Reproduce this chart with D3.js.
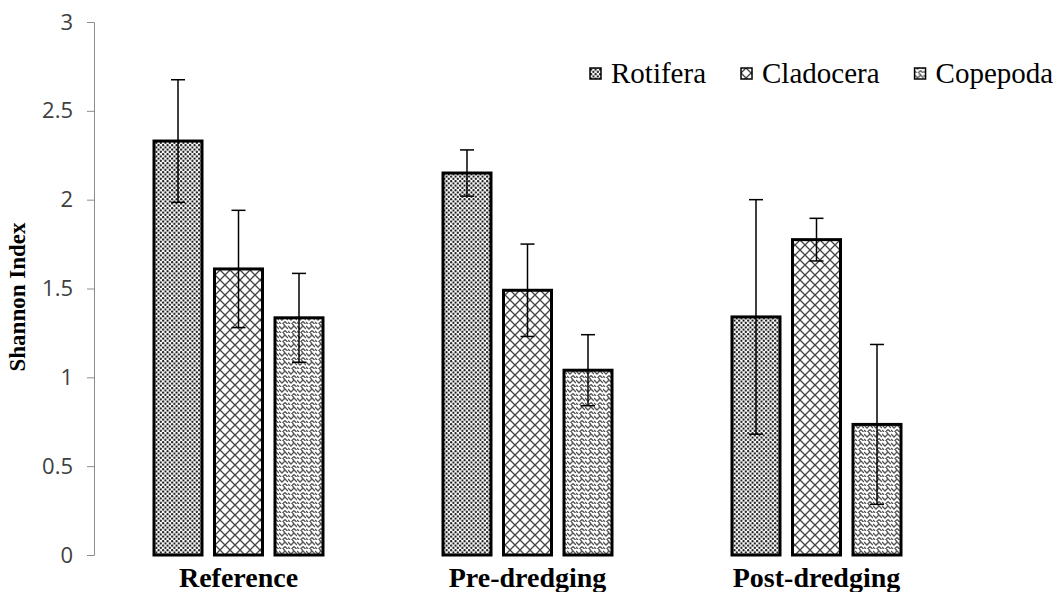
<!DOCTYPE html>
<html lang="en">
  <head>
    <script src="https://d3js.org/d3.v7.min.js"></script>
    <style>
      body { margin: 0; background: #fff; }
      .tick text { font-family: "Open Sans", sans-serif; font-size: 22px; fill: #404040; }
      .domain, .tick line { stroke: #8c8c8c; }
      .serif { font-family: "Liberation Serif", "DejaVu Serif", serif; }
    </style>
  </head>
  <body>
    <svg id="chart" width="1058" height="592"></svg>
    <script>
      // data
      let sites = ["Reference", "Pre-dredging", "Post-dredging"]
      let groups = ["Rotifera", "Cladocera", "Copepoda"]
      let rotifera = [2.33, 2.15, 1.34]
      let cladocera = [1.61, 1.49, 1.775]
      let copepoda = [1.335, 1.04, 0.735]
      let rotiferaErr = [0.345, 0.13, 0.66]
      let cladoceraErr = [0.33, 0.26, 0.12]
      let copepodaErr = [0.25, 0.2, 0.45]
      let yTicks = [0, 0.5, 1, 1.5, 2, 2.5, 3]

      let values = [rotifera, cladocera, copepoda]
      let errs = [rotiferaErr, cladoceraErr, copepodaErr]
      let rows = []
      sites.forEach((s, i) => groups.forEach((g, j) => rows.push({site: s, group: g, gi: j, v: values[j][i], e: errs[j][i]})))

      let svg = d3.select("#chart")
      let defs = svg.append("defs")

      // dotted fill for Rotifera
      let p1 = defs.append("pattern").attr("id", "pat0").attr("patternUnits", "userSpaceOnUse").attr("width", 4.5).attr("height", 4.5)
      p1.append("rect").attr("width", 4.5).attr("height", 4.5).attr("fill", "#fff")
      p1.append("circle").attr("cx", 1.1).attr("cy", 1.1).attr("r", 1.05).attr("fill", "#000")
      p1.append("circle").attr("cx", 3.35).attr("cy", 3.35).attr("r", 1.05).attr("fill", "#000")
      // diagonal crosshatch for Cladocera
      let p2 = defs.append("pattern").attr("id", "pat1").attr("patternUnits", "userSpaceOnUse").attr("width", 10).attr("height", 10)
      p2.append("rect").attr("width", 10).attr("height", 10).attr("fill", "#fff")
      p2.append("path").attr("d", "M0,0L10,10M10,0L0,10").attr("stroke", "#444").attr("stroke-width", 1.3)
      // zigzag weave for Copepoda
      let p3 = defs.append("pattern").attr("id", "pat2").attr("patternUnits", "userSpaceOnUse").attr("width", 9).attr("height", 9)
      p3.append("rect").attr("width", 9).attr("height", 9).attr("fill", "#fff")
      p3.append("path").attr("d", "M0,2L3,5L6,2L9,5M0,7L2,9M4.5,0L6,2M6,6.5L8.5,9M6,6.5L3.5,9").attr("stroke", "#555").attr("stroke-width", 1.4).attr("fill", "none")

      let x = d3.scaleBand().domain(sites).range([94, 961])
      let y = d3.scaleLinear().domain([0, 3]).range([555, 22])
      let step = 60.5, barW = 48

      let cx = d => x(d.site) + x.bandwidth() / 2 + (d.gi - 1) * step

      svg.append("g").attr("transform", "translate(94,0)")
        .call(d3.axisLeft(y).tickValues(yTicks).tickSize(7).tickPadding(14).tickFormat(d3.format("")))

      svg.selectAll(".bar").data(rows).enter().append("rect").attr("class", "bar")
        .attr("x", d => cx(d) - barW / 2).attr("width", barW)
        .attr("y", d => y(d.v)).attr("height", d => y(0) - y(d.v))
        .attr("fill", d => "url(#pat" + d.gi + ")").attr("stroke", "#000").attr("stroke-width", 3)

      let eb = svg.selectAll(".err").data(rows).enter().append("g").attr("class", "err")
        .attr("stroke", "#000").attr("stroke-width", 1.5)
      eb.append("line").attr("x1", cx).attr("x2", cx).attr("y1", d => y(d.v + d.e)).attr("y2", d => y(d.v - d.e))
      eb.append("line").attr("x1", d => cx(d) - 7).attr("x2", d => cx(d) + 7).attr("y1", d => y(d.v + d.e)).attr("y2", d => y(d.v + d.e))
      eb.append("line").attr("x1", d => cx(d) - 7).attr("x2", d => cx(d) + 7).attr("y1", d => y(d.v - d.e)).attr("y2", d => y(d.v - d.e))

      svg.selectAll(".cat").data(sites).enter().append("text").attr("class", "cat serif")
        .attr("x", d => x(d) + x.bandwidth() / 2).attr("y", 587)
        .attr("text-anchor", "middle").attr("font-weight", "bold").attr("font-size", 28)
        .text(d => d)

      svg.append("text").attr("class", "serif").attr("transform", "translate(25,297) rotate(-90)").attr("text-anchor", "middle")
        .attr("font-weight", "bold").attr("font-size", 23).text("Shannon Index")

      // legend, laid out left to right from the measured text widths
      let legend = svg.append("g").attr("transform", "translate(590,73)")
      let lx = 0
      groups.forEach((g, i) => {
        let item = legend.append("g").attr("transform", `translate(${lx},0)`)
        item.append("rect").attr("x", 0).attr("y", -5).attr("width", 11).attr("height", 11)
          .attr("fill", "url(#pat" + i + ")").attr("stroke", "#000").attr("stroke-width", 1.5)
        let t = item.append("text").attr("x", 21).attr("y", 10).attr("font-size", 29)
          .style("font-family", "'Liberation Serif', 'Times New Roman', 'DejaVu Serif', serif").attr("font-weight", "normal").text(g)
        lx += 21 + t.node().getComputedTextLength() + 35
      })
    </script>
  </body>
</html>
